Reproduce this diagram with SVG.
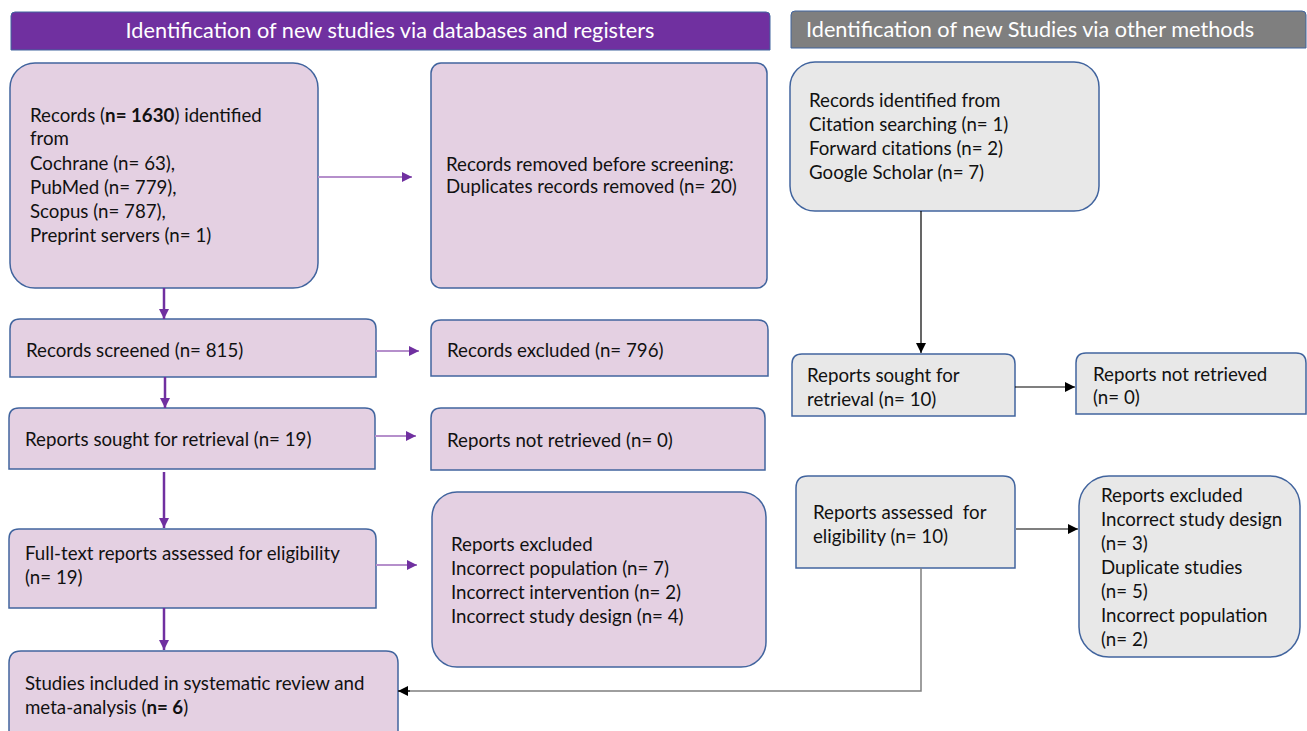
<svg xmlns="http://www.w3.org/2000/svg" width="1307" height="731" viewBox="0 0 1307 731">
<style>
text{font-family:Lato,"Liberation Sans",sans-serif;font-size:18.7px;fill:#111}
.hd{fill:#fff;font-size:21.7px}
.pk{fill:#E4D0E2;stroke:#41649E;stroke-width:1.5}
.gy{fill:#E8E8E8;stroke:#41649E;stroke-width:1.5}
.vp{stroke:#7030A0;stroke-width:2.5;fill:none}
.hp{stroke:#B58FCB;stroke-width:1.8;fill:none}
.bk{stroke:#000;stroke-width:1.2;fill:none}
.gl{stroke:#7F7F7F;stroke-width:1.5;fill:none}
</style>
<defs>
<marker id="ap" markerUnits="userSpaceOnUse" markerWidth="12" markerHeight="12" refX="10" refY="5" orient="auto"><path d="M0,0 L10,5 L0,10 Z" fill="#7030A0"/></marker>
<marker id="ab" markerUnits="userSpaceOnUse" markerWidth="12" markerHeight="12" refX="10" refY="5" orient="auto"><path d="M0,0 L10,5 L0,10 Z" fill="#000"/></marker>
</defs>
<rect width="1307" height="731" fill="#fff"/>

<g id="header-left">
<path d="M11,50 V16 Q11,12 15,12 H766 Q770,12 770,16 V50 Z" fill="#7030A0" stroke="#41649E" stroke-width="1"/>
<text class="hd" x="390" y="38" text-anchor="middle">Identification of new studies via databases and registers</text>
</g>
<g id="header-right">
<path d="M791,48 V15 Q791,11 795,11 H1302 Q1306,11 1306,15 V48 Z" fill="#7F7F7F" stroke="#41649E" stroke-width="1"/>
<text class="hd" x="806" y="37">Identification of new Studies via other methods</text>
</g>

<g id="records-identified">
<rect class="pk" x="10" y="63" width="308" height="225" rx="25"/>
<text x="30" y="122">Records (<tspan font-weight="bold">n= 1630</tspan>) identified</text>
<text x="30" y="145">from</text>
<text x="30" y="170">Cochrane (n= 63),</text>
<text x="30" y="194">PubMed (n= 779),</text>
<text x="30" y="218">Scopus (n= 787),</text>
<text x="30" y="242">Preprint servers (n= 1)</text>
</g>
<g id="records-removed">
<rect class="pk" x="431" y="63" width="336" height="225" rx="10"/>
<text x="446" y="171">Records removed before screening:</text>
<text x="446" y="193">Duplicates records removed (n= 20)</text>
</g>
<g id="records-screened">
<path class="pk" d="M10,377 V329 Q10,319 20,319 H366 Q376,319 376,329 V377 Z"/>
<text x="26" y="357">Records screened (n= 815)</text>
</g>
<g id="records-excluded">
<path class="pk" d="M431,376 V330 Q431,320 441,320 H758 Q768,320 768,330 V376 Z"/>
<text x="447" y="357">Records excluded (n= 796)</text>
</g>
<g id="reports-sought">
<path class="pk" d="M9,469 V418 Q9,408 19,408 H365 Q375,408 375,418 V469 Z"/>
<text x="25" y="446">Reports sought for retrieval (n= 19)</text>
</g>
<g id="reports-not-retrieved">
<path class="pk" d="M431,470 V418 Q431,408 441,408 H755 Q765,408 765,418 V470 Z"/>
<text x="447" y="447">Reports not retrieved (n= 0)</text>
</g>
<g id="fulltext-assessed">
<path class="pk" d="M9,608 V539 Q9,529 19,529 H366 Q376,529 376,539 V608 Z"/>
<text x="25" y="560">Full-text reports assessed for eligibility</text>
<text x="25" y="584">(n= 19)</text>
</g>
<g id="reports-excluded">
<rect class="pk" x="432" y="492" width="334" height="175" rx="25"/>
<text x="451" y="551">Reports excluded</text>
<text x="451" y="575">Incorrect population (n= 7)</text>
<text x="451" y="599">Incorrect intervention (n= 2)</text>
<text x="451" y="623">Incorrect study design (n= 4)</text>
</g>
<g id="studies-included">
<path class="pk" d="M9,735 V663 Q9,651 21,651 H386 Q398,651 398,663 V735 Z"/>
<text x="25" y="690">Studies included in systematic review and</text>
<text x="25" y="714">meta-analysis (<tspan font-weight="bold">n= 6</tspan>)</text>
</g>

<g id="other-records">
<rect class="gy" x="790" y="62" width="309" height="149" rx="25"/>
<text x="809" y="107">Records identified from</text>
<text x="809" y="131">Citation searching (n= 1)</text>
<text x="809" y="155">Forward citations (n= 2)</text>
<text x="809" y="179">Google Scholar (n= 7)</text>
</g>
<g id="other-sought">
<path class="gy" d="M792,416 V364 Q792,354 802,354 H1005 Q1015,354 1015,364 V416 Z"/>
<text x="807" y="382">Reports sought for</text>
<text x="807" y="406">retrieval (n= 10)</text>
</g>
<g id="other-not-retrieved">
<path class="gy" d="M1076,414 V363 Q1076,353 1086,353 H1296 Q1306,353 1306,363 V414 Z"/>
<text x="1093" y="381">Reports not retrieved</text>
<text x="1093" y="404">(n= 0)</text>
</g>
<g id="other-assessed">
<path class="gy" d="M796,568 V488 Q796,476 808,476 H1003 Q1015,476 1015,488 V568 Z"/>
<text x="813" y="519" style="white-space:pre">Reports assessed  for</text>
<text x="813" y="543">eligibility (n= 10)</text>
</g>
<g id="other-excluded">
<rect class="gy" x="1079" y="476" width="221" height="181" rx="30"/>
<text x="1101" y="502">Reports excluded</text>
<text x="1101" y="526">Incorrect study design</text>
<text x="1101" y="550">(n= 3)</text>
<text x="1101" y="574">Duplicate studies</text>
<text x="1101" y="598">(n= 5)</text>
<text x="1101" y="622">Incorrect population</text>
<text x="1101" y="646">(n= 2)</text>
</g>

<g id="connectors">
<line class="hp" x1="318" y1="177" x2="412" y2="177" marker-end="url(#ap)"/>
<line class="hp" x1="376" y1="351" x2="419" y2="351" marker-end="url(#ap)"/>
<line class="hp" x1="375" y1="436" x2="416" y2="436" marker-end="url(#ap)"/>
<line class="hp" x1="376" y1="565" x2="417" y2="565" marker-end="url(#ap)"/>
<line class="vp" x1="164" y1="288" x2="164" y2="319" marker-end="url(#ap)"/>
<line class="vp" x1="165" y1="377" x2="165" y2="408" marker-end="url(#ap)"/>
<line class="vp" x1="164" y1="472" x2="164" y2="528" marker-end="url(#ap)"/>
<line class="vp" x1="164" y1="608" x2="164" y2="650" marker-end="url(#ap)"/>
<line class="bk" x1="921" y1="211" x2="921" y2="353" marker-end="url(#ab)"/>
<line class="bk" x1="1015" y1="387" x2="1075" y2="387" marker-end="url(#ab)"/>
<line class="bk" x1="1016" y1="529" x2="1078" y2="529" marker-end="url(#ab)"/>
<polyline class="gl" points="921,568 921,691 408,691"/>
<line class="bk" x1="410" y1="691" x2="398" y2="691" marker-end="url(#ab)"/>
</g>
</svg>
